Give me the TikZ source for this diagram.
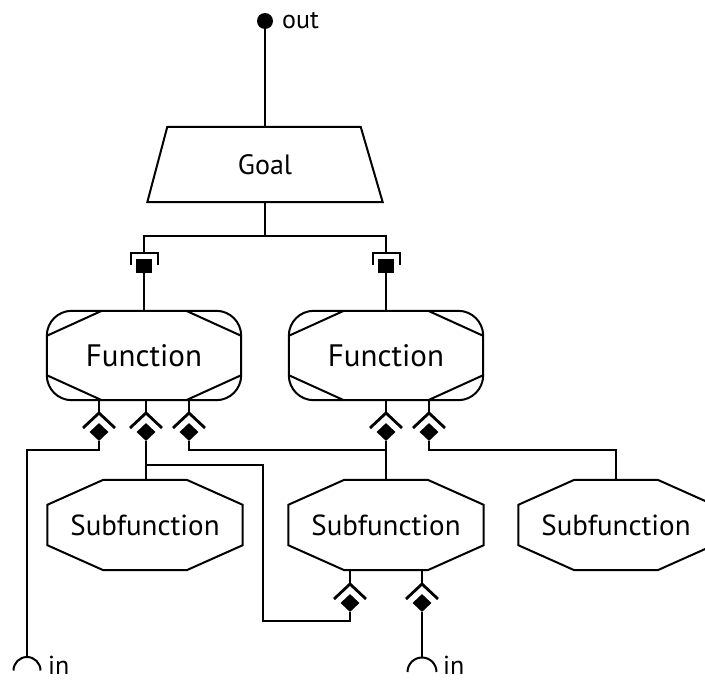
\documentclass[tikz,border=0pt]{standalone}
\usepackage{fontspec}
\setmainfont{PT Sans}
\usetikzlibrary{calc,shapes.geometric}
\tikzset{
  ln/.style={line width=2pt},
  fnbox/.style={minimum width=194pt, minimum height=89pt, inner sep=0pt, font=\fontsize{31}{37}\selectfont},
  sfbox/.style={minimum width=195pt, minimum height=90pt, inner sep=0pt, font=\fontsize{29}{34}\selectfont},
  dmd/.style={diamond, fill=black, inner sep=0pt, minimum width=19pt, minimum height=18pt},
  sqr/.style={rectangle, fill=black, inner sep=0pt, minimum width=16pt, minimum height=14pt},
  lbl/.style={inner sep=0pt, anchor=base west, font=\fontsize{26}{30}\selectfont},
}
\newcommand\octo[3]{\draw[ln] ($(#1.north west)+(#2,0)$) -- ($(#1.north east)+(-#2,0)$) -- ($(#1.north east)+(0,#3)$) -- ($(#1.south east)+(0,-#3)$) -- ($(#1.south east)+(-#2,0)$) -- ($(#1.south west)+(#2,0)$) -- ($(#1.south west)+(0,-#3)$) -- ($(#1.north west)+(0,#3)$) -- cycle;}
\newcommand\chev[2]{\node[dmd] (#1) at #2 {};
  \coordinate (#1a) at ($(#1)+(0,-19)$);
  \draw[line width=2.8pt] ($(#1)+(-16,-4)$) -- (#1a) -- ($(#1)+(16,-4)$);}
\newcommand\brk[1]{\draw[ln] ($(#1)+(-13.5,-1)$) -- ($(#1)+(-13.5,-13)$) -- ($(#1)+(13.5,-13)$) -- ($(#1)+(13.5,-1)$);}
\begin{document}
\begin{tikzpicture}[x=1pt,y=-1pt]
\useasboundingbox (0,0) rectangle (705,680);
% out
\node[circle, fill=black, inner sep=0pt, minimum size=16pt] (out) at (265,21) {};
\node[lbl] (outl) at (282,28) {out};
% goal
\node[inner sep=0pt, minimum width=235pt, minimum height=75pt, font=\fontsize{28}{33}\selectfont] (goal) at (265,164.5) {Goal};
\draw[ln] ($(goal.north west)+(20,0)$) -- ($(goal.north east)+(-22,0)$) -- (goal.south east) -- (goal.south west) -- cycle;
\draw[ln] (out) -- (goal.north);
\coordinate (j) at (265,236);
\draw[ln] (goal.south) -- (j);
% functions
\node[fnbox] (f1) at (144,355.5) {Function};
\node[fnbox] (f2) at (386,355.5) {Function};
\foreach \f in {f1,f2}{
  \draw[ln, rounded corners=25pt] (\f.north west) rectangle (\f.south east);
  \draw[ln] ($(\f.north west)+(55,0)$) -- ($(\f.north west)+(0,25)$);
  \draw[ln] ($(\f.north east)+(-55,0)$) -- ($(\f.north east)+(0,25)$);
  \draw[ln] ($(\f.south west)+(55,0)$) -- ($(\f.south west)+(0,-25)$);
  \draw[ln] ($(\f.south east)+(-55,0)$) -- ($(\f.south east)+(0,-25)$);
}
% required sockets
\node[sqr] (s1) at (144,266) {};
\node[sqr] (s2) at (386,266) {};
\brk{s1}\brk{s2}
\draw[ln] ($(s1)+(0,-13)$) |- (j) -| ($(s2)+(0,-13)$);
\draw[ln] (s1.south) -- (f1.north);
\draw[ln] (s2.south) -- (f2.north);
% subfunctions
\node[sfbox] (sf1) at (145,525) {Subfunction};
\node[sfbox] (sf2) at (386,525) {Subfunction};
\node[sfbox] (sf3) at (616,525) {Subfunction};
\octo{sf1}{56}{25}\octo{sf2}{56}{25}\octo{sf3}{56}{25}
% diamonds
\chev{d1}{(99,432)}
\chev{d2}{(146,432)}
\chev{d3}{(189,432)}
\chev{d5}{(386,432)}
\chev{d6}{(429,432)}
\chev{d4}{(350,603)}
\chev{d7}{(422,603)}
\draw[ln] (d1a) -- (d1a |- f1.south);
\draw[ln] (d2a) -- (d2a |- f1.south);
\draw[ln] (d3a) -- (d3a |- f1.south);
\draw[ln] (d5a) -- (d5a |- f2.south);
\draw[ln] (d6a) -- (d6a |- f2.south);
\draw[ln] (d4a) -- (d4a |- sf2.south);
\draw[ln] (d7a) -- (d7a |- sf2.south);
% in sockets
\coordinate (in1) at (27,657);
\coordinate (in2) at (422,657.5);
\draw[ln] ($(in1)+(-13.5,13.5)$) arc[start angle=180, end angle=360, radius=13.5];
\draw[ln] ($(in2)+(-14.5,14.5)$) arc[start angle=180, end angle=360, radius=14.5];
\node[lbl] (inl1) at (48,674) {in};
\node[lbl] (inl2) at (443,674) {in};
% connectors
\coordinate (m) at (146,465);
\coordinate (k) at (263,621);
\coordinate (h) at (386,450);
\draw[ln] (d1.south) -- ++(0,9) -| (in1);
\draw[ln] (d2.south) -- (d2.south |- sf1.north);
\draw[ln] (m) -| (k) -| (d4.south);
\draw[ln] (d3.south) |- (h);
\draw[ln] (d5.south) -- (d5.south |- sf2.north);
\draw[ln] (d6.south) -- ++(0,9) -| (sf3.north);
\draw[ln] (d7.south) -- (in2);
\end{tikzpicture}
\end{document}
